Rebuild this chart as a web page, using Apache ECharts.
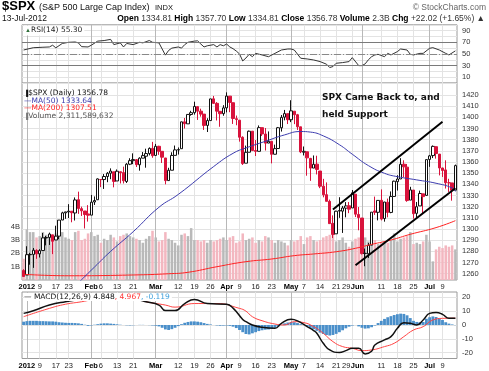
<!DOCTYPE html>
<html><head><meta charset="utf-8">
<script src="https://cdn.jsdelivr.net/npm/echarts@6/dist/echarts.min.js"></script>
<style>html,body{margin:0;padding:0;background:#fff}#c{width:489px;height:371px}</style>
</head><body><div id="c"></div>
<script>
const dates = ['2011-12-30',
'2012-01-03','2012-01-04','2012-01-05','2012-01-06','2012-01-09','2012-01-10','2012-01-11','2012-01-12','2012-01-13','2012-01-17','2012-01-18','2012-01-19','2012-01-20','2012-01-23','2012-01-24','2012-01-25','2012-01-26','2012-01-27','2012-01-30','2012-01-31',
'2012-02-01','2012-02-02','2012-02-03','2012-02-06','2012-02-07','2012-02-08','2012-02-09','2012-02-10','2012-02-13','2012-02-14','2012-02-15','2012-02-16','2012-02-17','2012-02-21','2012-02-22','2012-02-23','2012-02-24','2012-02-27','2012-02-28','2012-02-29',
'2012-03-01','2012-03-02','2012-03-05','2012-03-06','2012-03-07','2012-03-08','2012-03-09','2012-03-12','2012-03-13','2012-03-14','2012-03-15','2012-03-16','2012-03-19','2012-03-20','2012-03-21','2012-03-22','2012-03-23','2012-03-26','2012-03-27','2012-03-28','2012-03-29','2012-03-30',
'2012-04-02','2012-04-03','2012-04-04','2012-04-05','2012-04-09','2012-04-10','2012-04-11','2012-04-12','2012-04-13','2012-04-16','2012-04-17','2012-04-18','2012-04-19','2012-04-20','2012-04-23','2012-04-24','2012-04-25','2012-04-26','2012-04-27','2012-04-30',
'2012-05-01','2012-05-02','2012-05-03','2012-05-04','2012-05-07','2012-05-08','2012-05-09','2012-05-10','2012-05-11','2012-05-14','2012-05-15','2012-05-16','2012-05-17','2012-05-18','2012-05-21','2012-05-22','2012-05-23','2012-05-24','2012-05-25','2012-05-29','2012-05-30','2012-05-31',
'2012-06-01','2012-06-04','2012-06-05','2012-06-06','2012-06-07','2012-06-08','2012-06-11','2012-06-12','2012-06-13','2012-06-14','2012-06-15','2012-06-18','2012-06-19','2012-06-20','2012-06-21','2012-06-22','2012-06-25','2012-06-26','2012-06-27','2012-06-28','2012-06-29',
'2012-07-02','2012-07-03','2012-07-05','2012-07-06','2012-07-09','2012-07-10','2012-07-11','2012-07-12','2012-07-13'];

const opens = [1262.82,1258.86,1277.03,1277.30,1280.93,1277.83,1280.77,1292.02,1292.48,1294.82,
1290.22,1293.65,1308.07,1314.49,1315.29,1315.96,1314.40,1326.28,1318.25,1316.16,
1313.53,1312.45,1324.24,1326.21,1344.32,1344.33,1347.04,1349.97,1351.21,1343.06,
1351.30,1350.52,1342.61,1358.06,1361.22,1362.11,1357.53,1363.46,1365.20,1367.56,
1372.20,1365.90,1374.09,1369.59,1363.63,1343.39,1352.65,1365.97,1370.78,1371.92,
1395.95,1394.17,1402.55,1404.17,1409.59,1405.52,1402.89,1392.78,1397.11,1416.55,
1412.52,1405.39,1403.31,1408.47,1418.98,1413.09,1398.79,1397.45,1382.18,1358.98,
1368.77,1387.61,1370.27,1369.57,1390.78,1385.08,1376.96,1378.53,1366.97,1372.11,
1390.64,1400.19,1403.26,1397.86,1405.50,1402.32,1391.51,1368.79,1369.16,1363.20,
1354.58,1358.11,1351.93,1338.36,1330.78,1324.82,1305.05,1295.73,1316.09,1316.02,
1318.72,1320.81,1318.90,1331.25,1313.09,1309.87,1278.29,1277.82,1285.61,1316.15,
1314.99,1325.72,1309.40,1324.02,1314.88,1329.19,1342.42,1344.83,1358.04,1355.43,
1325.92,1334.90,1314.09,1320.71,1331.52,1330.12,1362.33,1365.75,1373.72,1367.09,
1354.66,1352.96,1341.40,1341.29,1334.81];
const highs = [1264.12,1284.62,1278.73,1283.05,1281.84,1281.99,1296.46,1293.80,1296.82,1294.82,
1303.00,1308.11,1315.49,1315.38,1322.28,1315.96,1328.30,1333.47,1320.06,1316.16,
1321.41,1330.52,1329.19,1345.34,1344.36,1349.24,1351.00,1354.32,1351.21,1353.35,
1351.30,1355.87,1359.02,1363.40,1367.76,1362.70,1364.24,1368.92,1371.94,1373.09,
1378.04,1376.17,1374.53,1369.59,1363.63,1354.85,1368.72,1374.76,1373.04,1396.13,
1399.42,1402.63,1405.88,1414.00,1409.59,1407.75,1402.89,1399.18,1416.58,1419.15,
1413.65,1405.39,1410.89,1422.38,1419.00,1413.09,1401.60,1397.45,1383.01,1374.71,
1388.13,1387.61,1379.66,1392.76,1390.78,1390.46,1387.40,1378.53,1375.57,1391.37,
1402.09,1406.64,1403.26,1415.32,1405.50,1403.07,1391.51,1373.91,1369.16,1363.73,
1365.88,1365.66,1351.93,1344.94,1341.78,1326.36,1312.24,1316.39,1328.49,1320.71,
1324.14,1324.20,1334.93,1331.25,1319.74,1309.87,1282.55,1287.62,1315.13,1329.05,
1325.81,1335.52,1324.31,1327.28,1333.68,1343.32,1348.22,1363.46,1361.57,1358.27,
1337.82,1334.90,1324.24,1334.40,1331.52,1362.17,1366.35,1374.81,1373.85,1367.09,
1354.87,1361.54,1345.00,1341.29,1357.70];
const lows = [1257.46,1258.86,1268.10,1265.26,1273.34,1274.55,1280.77,1285.41,1285.77,1277.58,
1290.22,1290.99,1308.07,1309.17,1309.89,1306.06,1307.65,1313.60,1311.72,1300.49,
1306.69,1312.45,1321.57,1326.21,1337.52,1335.92,1341.95,1344.63,1337.35,1343.06,
1340.83,1340.80,1341.22,1357.24,1358.11,1355.53,1352.28,1363.46,1354.92,1365.97,
1363.81,1365.90,1366.42,1359.13,1340.03,1343.39,1352.65,1365.97,1366.69,1371.92,
1389.97,1394.17,1401.47,1402.43,1397.68,1400.64,1388.73,1386.87,1397.11,1411.95,
1397.20,1391.56,1401.42,1404.46,1404.62,1394.09,1392.92,1378.24,1357.38,1358.98,
1368.77,1369.85,1365.38,1369.57,1383.29,1370.30,1376.96,1358.79,1366.82,1372.11,
1387.28,1397.31,1394.00,1395.73,1393.92,1388.71,1367.96,1365.88,1347.75,1343.13,
1354.58,1348.89,1336.61,1328.41,1324.79,1304.86,1291.98,1295.73,1310.04,1296.53,
1310.50,1314.23,1318.90,1310.76,1298.90,1277.25,1266.74,1274.16,1285.61,1312.68,
1307.77,1307.73,1306.62,1310.51,1314.14,1329.19,1334.46,1344.83,1346.45,1324.41,
1325.92,1309.27,1310.30,1320.71,1313.29,1330.12,1355.70,1363.53,1363.02,1348.03,
1346.65,1336.27,1333.25,1325.41,1334.81];
const closes = [1257.60,1277.06,1277.30,1281.06,1277.81,1280.70,1292.08,1292.48,1295.50,1289.09,
1293.67,1308.04,1314.50,1315.38,1316.00,1314.65,1326.06,1318.43,1316.33,1313.01,
1312.41,1324.09,1325.54,1344.90,1344.33,1347.05,1349.96,1351.95,1342.64,1351.77,
1350.50,1343.23,1358.04,1361.23,1362.21,1357.66,1363.46,1365.74,1367.59,1372.18,
1365.68,1374.09,1369.63,1364.33,1343.36,1352.63,1365.91,1370.87,1371.09,1395.95,
1394.28,1402.60,1404.17,1409.75,1405.52,1402.89,1392.78,1397.11,1416.51,1412.52,
1405.54,1403.28,1408.47,1419.04,1413.38,1398.96,1398.08,1382.20,1358.59,1368.71,
1387.57,1370.26,1369.57,1390.78,1385.14,1376.92,1378.53,1366.94,1371.97,1390.69,
1399.98,1403.36,1397.91,1405.82,1402.31,1391.57,1369.10,1369.58,1363.72,1354.58,
1357.99,1353.39,1338.35,1330.66,1324.80,1304.86,1295.22,1315.99,1316.63,1318.86,
1320.68,1317.82,1332.42,1313.32,1310.33,1278.04,1278.18,1285.50,1315.13,1314.99,
1325.66,1308.93,1324.18,1314.88,1329.10,1342.84,1344.78,1357.98,1355.69,1325.51,
1335.02,1313.72,1319.99,1331.85,1329.04,1362.16,1365.51,1374.02,1367.58,1354.68,
1352.46,1341.47,1341.45,1334.76,1356.78];
// volume in billions of shares
const volumes = [1.6,3.8,3.6,3.6,3.2,3.3,3.6,3.4,3.2,3.3,
3.5,3.4,3.6,3.2,3.1,3.0,3.6,3.7,3.0,3.1,
3.5,3.6,3.3,3.4,2.8,3.1,3.0,3.4,3.2,2.9,
3.3,3.4,3.5,3.3,3.2,3.1,3.0,2.8,3.1,3.3,
3.7,3.2,2.9,3.0,3.6,3.1,3.0,2.8,2.6,3.4,
3.5,3.3,3.9,3.0,3.0,2.9,3.0,2.8,3.0,2.9,
3.0,3.1,3.2,3.0,3.2,3.3,2.8,2.9,3.5,3.0,
3.1,3.2,2.8,3.0,2.9,3.3,3.2,3.0,2.8,3.0,
2.9,2.8,2.6,3.0,2.9,3.0,3.3,2.7,3.2,3.3,
3.0,2.9,3.0,3.2,3.3,3.4,3.6,2.9,3.0,3.2,
2.8,2.5,2.9,3.1,3.2,3.3,3.2,2.9,3.1,3.0,
2.7,2.8,2.9,2.8,3.0,3.5,2.9,3.1,3.2,3.3,
3.6,2.7,2.8,2.7,2.9,3.4,2.9,1.4,2.3,2.5,
2.4,2.6,2.5,2.6,2.3];
// moving averages: [date index, value]
const ma50 = [[16,1249],[22,1266],[27,1280],[34,1297.6],[42,1319.5],[48,1331],[59,1356],[65,1367.8],[69,1372.6],[75,1378.5],[81,1384.3],[86,1387.3],[89,1386.8],[93,1383.4],[98,1375.5],[102,1367],[107,1356.8],[112,1349.9],[116,1346.9],[122,1344],[128,1341],[133,1336.8],[134,1333.64]];
const ma200 = [[0,1259.5],[14,1258.2],[34,1258.9],[45,1260],[51,1261.3],[60,1266.3],[69,1270.8],[77,1273.2],[84,1276.2],[90,1277.7],[97,1279.7],[103,1282.8],[108,1286.3],[114,1290.2],[120,1295.3],[128,1301.3],[134,1307.51]];
const rsi = [[0,56.8],[3,60.7],[6,61.5],[8,62],[9,65],[10,60.5],[12,68],[14,70],[16,70.5],[17,69],[18,62.5],[20,62],[21,65],[23,72],[25,73],[27,75],[28,66],[30,69],[31,62],[32,68],[34,66],[36,70],[37,69],[38,71],[39,73],[40,70],[42,69],[44,48],[45,56],[46,60],[48,62],[49,60],[50,66],[51,70],[53,72],[54,72.5],[55,67],[56,62],[57,64],[59,66],[60,62],[61,66],[62,64],[63,67],[64,62],[65,59],[66,55],[67,50],[68,38],[69,43],[70,49.4],[71,45.3],[72,51],[74,48.3],[76,45.3],[78,51],[80,56.8],[82,58.5],[83,58.5],[84,56.8],[86,42.6],[88,41.4],[90,39.7],[92,36.9],[94,32.4],[95,26.7],[96,28.4],[97,34],[99,35.2],[101,36.9],[102,43.7],[104,30],[105,30],[106,33],[107,40],[108,45.3],[109,48.3],[110,49.4],[112,45.3],[113,51],[114,48.3],[116,54],[117,58.5],[119,56.8],[120,49.4],[121,48.3],[123,51],[124,51],[126,59.7],[127,60.8],[129,56.8],[131,51],[132,48.3],[134,55.3]];
const macd = [[0,8.4],[3,10.3],[8,14.4],[13,16.8],[18,18.5],[23,20],[27,20.5],[32,19.5],[36,18],[38,16.8],[42,14.4],[44,10.4],[47,10.4],[50,15.5],[53,18.5],[57,15.5],[63,15],[65,12.2],[68,4],[69,2.4],[71,0],[74,-1.7],[78,-2.4],[80,1.2],[83,4.1],[85,3],[88,-1.2],[90,-4],[91,-6],[93,-13.2],[95,-18],[98,-19.9],[100,-18.5],[102,-16.8],[104,-16.8],[106,-20.9],[108,-19],[109,-14.4],[112,-10.8],[114,-8.4],[116,-2.4],[118,1.7],[120,1.2],[122,0],[124,3.6],[126,8.4],[128,9],[130,7.7],[132,4.8],[134,4.848]];
const signal = [[0,6],[8,12],[13,15],[18,16.8],[23,19],[27,19.6],[32,19.6],[36,18.3],[38,16.8],[44,14.4],[47,12.9],[53,15.5],[60,15.5],[67,12],[69,10],[71,6],[74,3.1],[78,0.7],[81,0],[84,2.4],[87,1.7],[90,-1.2],[93,-6],[96,-12],[99,-15.6],[102,-16.8],[105,-18.5],[108,-18],[112,-15.6],[115,-13.2],[118,-8.4],[121,-3.6],[124,-1.2],[127,3.6],[130,4.8],[134,4.967]];
const hist = [2.4,2.8,3.0,3.0,3.0,2.8,2.8,2.7,2.6,2.6,
2.4,2.0,1.8,1.6,1.5,1.5,1.4,1.2,0.8,0.2,
-0.6,-0.3,0.2,0.6,1.0,1.2,1.2,1.0,0.8,0.5,
0.2,0.0,-0.2,-0.3,-0.2,0.0,0.1,0.1,0.0,-0.1,
-0.3,-0.5,-1.0,-2.0,-3.2,-3.6,-3.0,-2.0,-0.8,0.6,
1.6,2.2,2.6,2.6,2.4,2.0,1.4,0.8,0.4,0.0,
-0.3,-0.5,-0.4,-0.3,-0.6,-1.2,-2.2,-3.6,-5.2,-6.5,
-6.8,-6.0,-5.2,-4.4,-3.8,-3.4,-3.2,-2.8,-2.0,-1.0,
0.2,1.2,1.8,2.2,2.0,1.4,0.6,0.0,-1.0,-2.0,
-3.0,-4.2,-5.5,-6.5,-7.2,-7.6,-7.2,-6.4,-5.2,-3.8,
-2.4,-1.2,-0.4,0.0,-1.0,-2.0,-2.6,-2.4,-1.6,-0.4,
1.4,3.0,4.4,5.6,6.4,7.2,7.8,8.2,8.0,7.0,
5.0,3.0,2.2,2.0,2.2,4.5,5.6,6.2,5.8,4.8,
3.6,2.0,1.0,0.4,-0.119];
// hand-drawn channel lines: [date, price] endpoints
const trendLines = [[['2012-05-18',1317.5],['2012-07-09',1396]],[['2012-05-30',1267.6],['2012-07-13',1336.5]]];
// x tick labels
const tickIdx = [1,5,10,14,21,24,29,34,41,48,53,58,63,67,72,77,83,87,92,97,102,105,111,116,121,126,130];
const tickText = ['2012','9','17','23','Feb','6','13','21','Mar','12','19','26','Apr','9','16','23','May','7','14','21','29','Jun','11','18','25','Jul','9'];
const monthIdx = [1,21,41,63,83,105,126];
const priceTicks = [1260,1270,1280,1290,1300,1310,1320,1330,1340,1350,1360,1370,1380,1390,1400,1410,1420];
const volTicks = [1,2,3,4];
const rsiTicks = [10,30,50,70,90];
const macdTicks = [-20,-10,0,10,20];

const FONT = 'Liberation Sans, Arial, sans-serif';
const VFONT = 'DejaVu Sans, Verdana, sans-serif';
const weekIdx = tickIdx.filter(i => !monthIdx.includes(i));
const GL = 22, GR = 32;

function labelFmt(v, i) {
  const k = tickIdx.indexOf(i);
  if (k < 0) return '';
  const t = tickText[k];
  if (t === 'Jun') return '{mj|' + t + '}';
  if (t === '29') return '{s29|' + t + '}';
  if (monthIdx.includes(i)) return '{m|' + t + '}';
  return '{n|' + t + '}';
}
const richLab = {
  n: {fontSize: 7.5, fontFamily: FONT, color: '#222'},
  m: {fontSize: 7.5, fontFamily: FONT, fontWeight: 'bold', color: '#000'},
  mj: {fontSize: 7.5, fontFamily: FONT, fontWeight: 'bold', color: '#000', padding: [0, 9, 0, 0]},
  s29: {fontSize: 7.5, fontFamily: FONT, color: '#222', padding: [0, 12, 0, 0]}
};
function xPair(grid, showLabels) {
  return [
    {type: 'category', gridIndex: grid, data: dates, boundaryGap: true, position: 'bottom',
      axisLine: {show: false}, axisTick: {show: false},
      axisLabel: {show: showLabels, interval: (i) => tickIdx.includes(i), formatter: labelFmt, rich: richLab, margin: 3},
      splitLine: {show: true, interval: (i) => weekIdx.includes(i), alignWithLabel: true, lineStyle: {color: '#e3e3e3', width: 1}}},
    {type: 'category', gridIndex: grid, data: dates, boundaryGap: true, position: 'top',
      axisLine: {show: false}, axisTick: {show: false}, axisLabel: {show: false},
      splitLine: {show: true, interval: (i) => monthIdx.includes(i), alignWithLabel: true, lineStyle: {color: '#b8b8b8', width: 1}}}
  ];
}

const candleData = closes.map((c, i) => {
  const o = opens[i];
  const prev = i > 0 ? closes[i - 1] : Infinity;
  const col = c >= prev ? '#111' : '#d8133c';
  const fill = c > o ? '#fff' : col;
  return {value: [o, c, lows[i], highs[i]], itemStyle: {color: fill, color0: fill, borderColor: col, borderColor0: col, borderWidth: 1}};
});
const volData = volumes.map((v, i) => ({value: v, itemStyle: {color: (i > 0 && closes[i] >= closes[i - 1]) ? '#b9b9b9' : '#f3b7c0'}}));

const axisLab = {fontSize: 7.5, fontFamily: FONT, color: '#333', margin: 5, formatter: (v) => String(v)};
const txt = (text, x, y, font, fill, align, extra) => ({type: 'text', z: 100, style: Object.assign({text, x, y, font, fill, align: align || 'left', textAlign: align || 'left', verticalAlign: 'top', textVerticalAlign: 'top'}, extra || {})});

const option = {
  animation: false,
  backgroundColor: '#fff',
  grid: [
    {left: GL, right: GR, top: 24.8, height: 58.3, show: true, borderColor: '#9a9a9a', borderWidth: 1},
    {left: GL, right: GR, top: 83.1, height: 196.9, show: true, borderColor: '#9a9a9a', borderWidth: 1},
    {left: GL, right: GR, top: 292, height: 66.5, show: true, borderColor: '#9a9a9a', borderWidth: 1}
  ],
  xAxis: [...xPair(0, false), ...xPair(1, true), ...xPair(2, true)],
  yAxis: [
    {type: 'value', gridIndex: 0, position: 'right', min: 0, max: 100, interval: 10,
      axisLine: {show: false}, axisTick: {show: false},
      axisLabel: Object.assign({}, axisLab, {formatter: (v) => rsiTicks.includes(v) ? String(v) : ''}),
      splitLine: {show: true, lineStyle: {color: '#e3e3e3'}}},
    {type: 'value', gridIndex: 1, position: 'right', min: 1254.4, max: 1430.65,
      axisLine: {show: false}, axisTick: {show: false, customValues: priceTicks},
      axisLabel: Object.assign({customValues: priceTicks}, axisLab),
      splitLine: {show: true, lineStyle: {color: '#e3e3e3'}}},
    {type: 'value', gridIndex: 1, position: 'left', min: 0, max: 14.8,
      axisLine: {show: false}, axisTick: {show: false, customValues: volTicks},
      axisLabel: {customValues: volTicks, formatter: '{value}B', fontSize: 7.5, fontFamily: FONT, color: '#333', margin: 2},
      splitLine: {show: false}},
    {type: 'value', gridIndex: 2, position: 'right', min: -24.19, max: 23.83,
      axisLine: {show: false}, axisTick: {show: false, customValues: macdTicks},
      axisLabel: Object.assign({customValues: macdTicks}, axisLab),
      splitLine: {show: true, lineStyle: {color: '#e3e3e3'}}}
  ],
  series: [
    {type: 'line', name: 'RSI', xAxisIndex: 0, yAxisIndex: 0, data: rsi, symbol: 'none',
      lineStyle: {color: '#333', width: 1},
      markLine: {silent: true, symbol: 'none', label: {show: false}, animation: false,
        data: [{yAxis: 70, lineStyle: {color: '#7a7a7a', type: 'solid', width: 1}},
               {yAxis: 30, lineStyle: {color: '#7a7a7a', type: 'solid', width: 1}},
               {yAxis: 50, lineStyle: {color: '#888', type: [7, 2, 1, 2], width: 1}}]}},
    {type: 'bar', name: 'Volume', xAxisIndex: 2, yAxisIndex: 2, data: volData, barCategoryGap: '22%'},
    {type: 'line', name: 'MA200', xAxisIndex: 2, yAxisIndex: 1, data: ma200, symbol: 'none', smooth: true,
      lineStyle: {color: '#f22', width: 1}},
    {type: 'line', name: 'MA50', xAxisIndex: 2, yAxisIndex: 1, data: ma50, symbol: 'none', smooth: true,
      lineStyle: {color: '#3c3cae', width: 1}},
    {type: 'candlestick', name: '$SPX', xAxisIndex: 2, yAxisIndex: 1, data: candleData, barWidth: 3,
      markLine: {silent: true, symbol: 'none', label: {show: false}, animation: false,
        lineStyle: {color: '#000', width: 2, type: 'solid'},
        data: trendLines.map(l => [{coord: l[0]}, {coord: l[1]}])}},
    {type: 'bar', name: 'Hist', xAxisIndex: 4, yAxisIndex: 3, data: hist, barCategoryGap: '12%',
      itemStyle: {color: '#4a8fca'}},
    {type: 'line', name: 'Signal', xAxisIndex: 4, yAxisIndex: 3, data: signal, symbol: 'none', smooth: true,
      lineStyle: {color: '#f44', width: 1}},
    {type: 'line', name: 'MACD', xAxisIndex: 4, yAxisIndex: 3, data: macd, symbol: 'none', smooth: true,
      lineStyle: {color: '#111', width: 1.5}}
  ],
  graphic: [
    txt('$SPX', 2, 0, 'bold 13px ' + FONT, '#000'),
    txt('(S&P 500 Large Cap Index)', 39, 3, '9px ' + FONT, '#111'),
    txt('INDX', 155, 4, '7.5px ' + FONT, '#111'),
    txt('\u00a9 StockCharts.com', 486, 3, '8.5px ' + FONT, '#666', 'right'),
    txt('13-Jul-2012', 2, 14, '8.5px ' + FONT, '#111'),
    txt('{b|Open} 1334.81 {b|High} 1357.70 {b|Low} 1334.81 {b|Close} 1356.78 {b|Volume} 2.3B {b|Chg} +22.02 (+1.65%) \u25b2', 485, 14, '8.5px ' + FONT, '#333', 'right',
      {rich: {b: {fontWeight: 'bold', fontSize: 8.5, fontFamily: FONT, fill: '#000', color: '#000'}}}),
    txt('{g|\u25b2}RSI(14) 55.30', 24, 25.5, '7.5px ' + VFONT, '#222', 'left',
      {backgroundColor: '#fff', padding: [1, 2, 1, 1], rich: {g: {fontSize: 6, color: '#2f6f3a', fill: '#2f6f3a'}}}),
    txt('{k|\u2590}$SPX (Daily) 1356.78', 24, 89.5, '7.5px ' + VFONT, '#111', 'left', {rich: {k: {fontSize: 6, color: '#111', fill: '#111'}}}),
    txt('\u2014MA(50) 1333.64', 24, 97, '7.5px ' + VFONT, '#3c3cae'),
    txt('\u2014MA(200) 1307.51', 24, 104.5, '7.5px ' + VFONT, '#f22'),
    txt('{k|\u2590}Volume 2,311,589,632', 24, 112, '7.5px ' + VFONT, '#555', 'left', {rich: {k: {fontSize: 6, color: '#777', fill: '#777'}}}),
    txt('{k|\u2014 MACD(12,26,9) 4.848}{r|, 4.967}{c|, -0.119}', 24, 293, '7.5px ' + VFONT, '#111', 'left',
      {backgroundColor: '#fff', padding: [0, 2, 0, 0],
       rich: {k: {fontSize: 7.5, fontFamily: VFONT, color: '#111', fill: '#111'}, r: {fontSize: 7.5, fontFamily: VFONT, color: '#f33', fill: '#f33'}, c: {fontSize: 7.5, fontFamily: VFONT, color: '#3ea0dc', fill: '#3ea0dc'}}}),
    txt('SPX Came Back to, and', 322, 93.5, 'bold 9px ' + VFONT, '#111'),
    txt('held Support', 322, 110.5, 'bold 9px ' + VFONT, '#111')
  ]
};
const chart = echarts.init(document.getElementById('c'), null, {renderer: 'canvas', width: 489, height: 371});
chart.setOption(option);
</script>
</body></html>
